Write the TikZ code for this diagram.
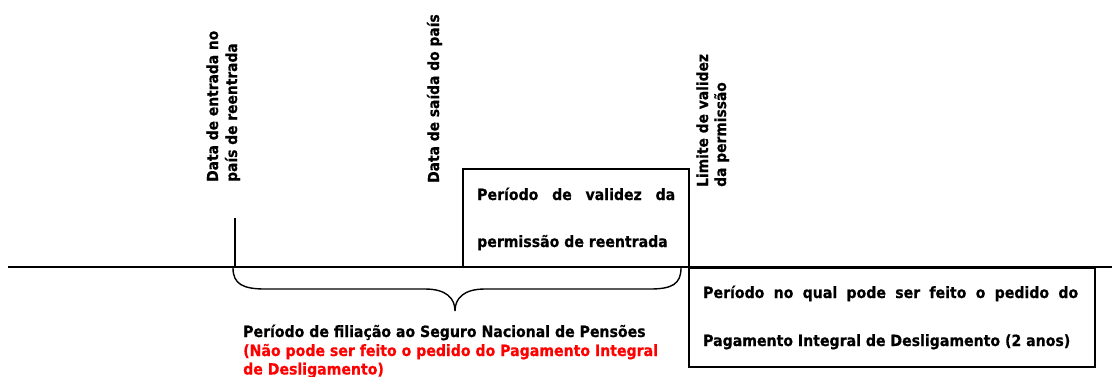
\documentclass[tikz,border=0pt]{standalone}
\usepackage{fontspec}
\setmainfont{DejaVu Sans}[BoldFont={DejaVu Sans Bold},FakeStretch=0.91,BoldFeatures={FakeBold=0.6}]
\begin{document}
\begin{tikzpicture}[x=1pt,y=-1pt,
  lbl/.style={inner sep=0pt,anchor=base west,font=\fontsize{15.5}{18}\selectfont\bfseries},
  vlbl/.style={lbl,rotate=90,font=\fontsize{15.2}{18}\selectfont\bfseries},
  boxstyle/.style={draw,line width=2pt,inner sep=0pt,anchor=north west},
  ln/.style={line width=2pt}]
\useasboundingbox (0,0) rectangle (1112,376);
% boxes
\node[boxstyle,minimum width=226pt,minimum height=98pt] (valid) at (462,168) {};
\node[boxstyle,minimum width=406pt,minimum height=99pt] (claim) at (688,266.5) {};
% timeline
\coordinate (tl0) at (8,266.5);
\coordinate (tl1) at (1112,266.5);
\draw[ln] (tl0) -- (tl1);
\coordinate (entryTop) at (234.5,218);
\coordinate (entryBot) at (234.5,266.5);
\draw[ln] (entryTop) -- (entryBot);
% vertical labels
\node[vlbl] (e1) at (218,182) {Data de entrada no};
\node[vlbl] (e2) at (237,182) {país de reentrada};
\node[vlbl] (s1) at (439,183) {Data de saída do país};
\node[vlbl] (l1) at (708,187) {Limite de validez};
\node[vlbl] (l2) at (726,187) {da permissão};
% box texts
\node[lbl] (v1) at (477,200) {\makebox[198pt][s]{Período\hfill de\hfill validez\hfill da}};
\node[lbl] (v2) at (477,247) {permissão de reentrada};
\node[lbl] (c1) at (703,298) {\makebox[375pt][s]{Período\hfill no\hfill qual\hfill pode\hfill ser\hfill feito\hfill o\hfill pedido\hfill do}};
\node[lbl] (c2) at (703,346) {Pagamento Integral de Desligamento (2 anos)};
% brace
\coordinate (bl) at (233,268);
\coordinate (bt) at (455,311);
\coordinate (br) at (681,268);
\draw[line width=1.4pt] (bl) .. controls (233,284) and (243,289) .. (265,289)
  -- (425,289) .. controls (446,289) and (455,298) .. (bt)
  .. controls (455,298) and (464,289) .. (485,289)
  -- (650,289) .. controls (672,289) and (681,284) .. (br);
% bottom labels
\node[lbl] (f1) at (243,337) {Período de filiação ao Seguro Nacional de Pensões};
\node[lbl,text=red] (f2) at (243,356) {(Não pode ser feito o pedido do Pagamento Integral};
\node[lbl,text=red] (f3) at (243,374.5) {de Desligamento)};
\end{tikzpicture}
\end{document}
